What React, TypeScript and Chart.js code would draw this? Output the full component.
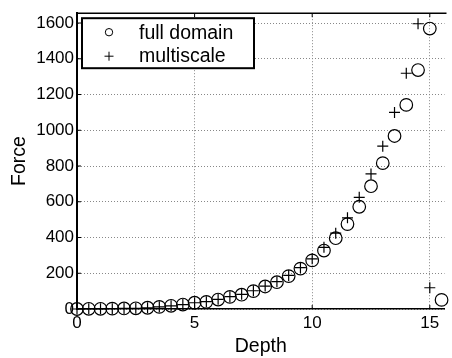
import React, { useEffect, useRef } from "react";
import { Chart, registerables } from "chart.js";

Chart.register(...registerables);

const depthFull = [0, 0.5, 1, 1.5, 2, 2.5, 3, 3.5, 4, 4.5, 5, 5.5, 6, 6.5, 7, 7.5, 8, 8.5, 9, 9.5, 10, 10.5, 11, 11.5, 12, 12.5, 13, 13.5, 14, 14.5, 15, 15.5];
const fullDomain = [0, 1, 1, 2, 3, 4, 7, 12, 18, 25, 35, 40, 53, 68, 80, 100, 126, 150, 184, 226, 272, 327, 396, 475, 572, 687, 816, 968, 1142, 1337, 1569, 51];
const depthMulti = [0, 0.5, 1, 1.5, 2, 2.5, 3, 3.5, 4, 4.5, 5, 5.5, 6, 6.5, 7, 7.5, 8, 8.5, 9, 9.5, 10, 10.5, 11, 11.5, 12, 12.5, 13, 13.5, 14, 14.5, 15];
const multiscale = [0, 1, 1, 2, 3, 4, 7, 12, 18, 25, 35, 41, 54, 69, 82, 102, 128, 153, 188, 231, 281, 345, 424, 510, 625, 756, 911, 1100, 1319, 1596, 119];
const xTicks = [0, 5, 10, 15];
const yTicks = [0, 200, 400, 600, 800, 1000, 1200, 1400, 1600];
const seriesLabels = ["full domain", "multiscale"];

const FONT = "'Liberation Sans', Arial, Helvetica, sans-serif";

const framePlugin = {
  id: "frame",
  afterDraw(chart: any) {
    const { ctx, chartArea } = chart;
    const { left, top, right, bottom } = chartArea;
    ctx.save();
    ctx.strokeStyle = "#000";
    ctx.lineWidth = 1.5;
    ctx.beginPath();
    ctx.moveTo(left, top);
    ctx.lineTo(right + 2, top);
    ctx.stroke();
    ctx.lineWidth = 1;
    const xs = chart.scales.x;
    const ys = chart.scales.y;
    xTicks.forEach((v) => {
      const px = xs.getPixelForValue(v);
      ctx.beginPath();
      ctx.moveTo(px, top);
      ctx.lineTo(px, top + 4);
      ctx.moveTo(px, bottom);
      ctx.lineTo(px, bottom - 4);
      ctx.stroke();
    });
    yTicks.forEach((v) => {
      const py = ys.getPixelForValue(v);
      ctx.beginPath();
      ctx.moveTo(left, py);
      ctx.lineTo(left + 4, py);
      ctx.stroke();
    });

    // legend box
    const bx = left + 5;
    const by = top + 5;
    const bw = 172;
    const bh = 50;
    ctx.fillStyle = "#fff";
    ctx.fillRect(bx, by, bw, bh);
    ctx.lineWidth = 2;
    ctx.strokeStyle = "#000";
    ctx.strokeRect(bx, by, bw, bh);
    ctx.lineWidth = 1;
    const mx = bx + 27;
    const r1 = by + 14;
    const r2 = by + 38;
    ctx.beginPath();
    ctx.arc(mx, r1, 3.7, 0, Math.PI * 2);
    ctx.stroke();
    ctx.beginPath();
    ctx.moveTo(mx - 4.5, r2);
    ctx.lineTo(mx + 4.5, r2);
    ctx.moveTo(mx, r2 - 4.5);
    ctx.lineTo(mx, r2 + 4.5);
    ctx.stroke();
    ctx.fillStyle = "#000";
    ctx.font = `19.5px ${FONT}`;
    ctx.textBaseline = "middle";
    ctx.textAlign = "left";
    ctx.fillText(seriesLabels[0], bx + 57, r1 + 1);
    ctx.fillText(seriesLabels[1], bx + 57, r2);
    ctx.restore();
  },
};

export default function App() {
  const ref = useRef<HTMLCanvasElement | null>(null);
  useEffect(() => {
    if (!ref.current) return;
    const chart = new Chart(ref.current, {
      type: "scatter",
      data: {
        datasets: [
          {
            label: seriesLabels[0],
            data: depthFull.map((x, i) => ({ x, y: fullDomain[i] })),
            pointStyle: "circle",
            pointRadius: 6.3,
            pointBorderWidth: 1.2,
            borderColor: "#000",
            backgroundColor: "rgba(0,0,0,0)",
            pointBorderColor: "#000",
            pointBackgroundColor: "rgba(0,0,0,0)",
          },
          {
            label: seriesLabels[1],
            data: depthMulti.map((x, i) => ({ x, y: multiscale[i] })),
            pointStyle: "cross",
            pointRadius: 5.5,
            pointBorderWidth: 1.2,
            borderColor: "#000",
            pointBorderColor: "#000",
            backgroundColor: "#000",
          },
        ],
      },
      options: {
        animation: false,
        responsive: false,
        maintainAspectRatio: false,
        clip: 8 as any,
        layout: { padding: { top: 7, right: 0, left: 0, bottom: 0 } },
        plugins: {
          legend: { display: false },
          tooltip: { enabled: false },
        },
        scales: {
          x: {
            type: "linear",
            min: 0,
            max: 15.625,
            afterBuildTicks: (s: any) => {
              s.ticks = xTicks.map((v) => ({ value: v }));
            },
            afterFit: (s: any) => {
              s.height = 49;
            },
            grid: { color: "#888", lineWidth: 1, drawTicks: false },
            border: { display: true, color: "#000", width: 1.5, dash: [1, 2] },
            ticks: {
              color: "#000",
              font: { family: FONT, size: 17 },
              padding: 4,
              maxRotation: 0,
              autoSkip: false,
              callback: (v: any) => String(v),
            },
            title: {
              display: true,
              text: "Depth",
              color: "#000",
              font: { family: FONT, size: 19.5 },
              padding: { top: 0, bottom: 0 },
            },
          },
          y: {
            type: "linear",
            min: 0,
            max: 1655,
            afterBuildTicks: (s: any) => {
              s.ticks = yTicks.map((v) => ({ value: v }));
            },
            afterFit: (s: any) => {
              s.width = 77;
            },
            grid: { color: "#888", lineWidth: 1, drawTicks: false },
            border: { display: true, color: "#000", width: 2, dash: [1, 2] },
            ticks: {
              color: "#000",
              font: { family: FONT, size: 17 },
              padding: 3,
              autoSkip: false,
              callback: (v: any) => String(v),
            },
            title: {
              display: true,
              text: "Force",
              color: "#000",
              font: { family: FONT, size: 19.5 },
              padding: { top: 8, bottom: 0 },
            },
          },
        },
      },
      plugins: [framePlugin],
    });
    return () => chart.destroy();
  }, []);
  return (
    <div style={{ position: "fixed", left: 0, top: 0, width: 452, height: 358, background: "#fff" }}>
      <canvas ref={ref} width={452} height={358} style={{ display: "block" }} />
    </div>
  );
}
